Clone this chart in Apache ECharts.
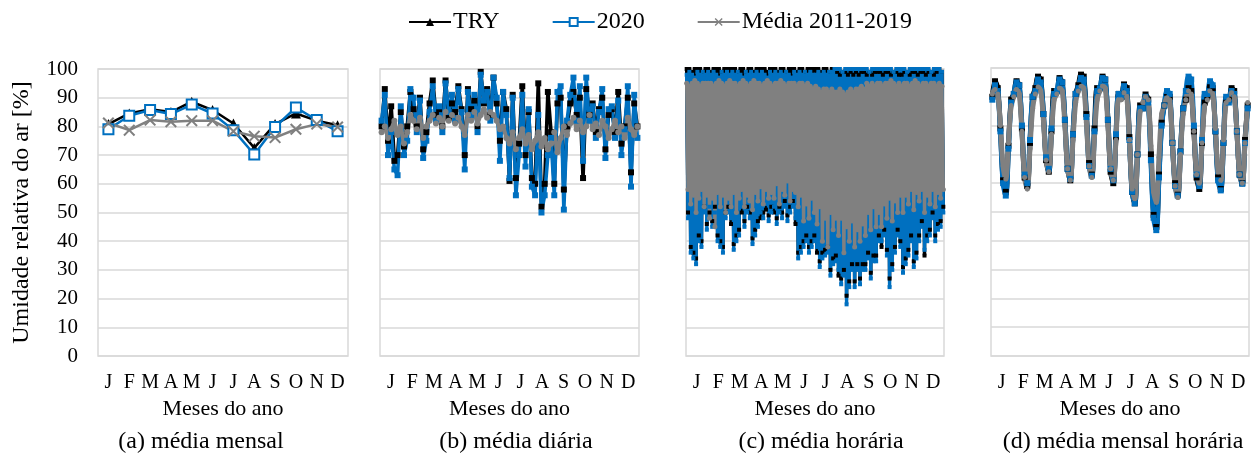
<!DOCTYPE html>
<html><head><meta charset="utf-8">
<script src="https://cdn.jsdelivr.net/npm/echarts@6/dist/echarts.min.js"></script>
<style>html,body{margin:0;padding:0;background:#fff}#c{width:1251px;height:454px}</style>
</head><body><div id="c"></div>
<script>
// ---- labels ----
const months = ['J','F','M','A','M','J','J','A','S','O','N','D'];
const seriesNames = ['TRY','2020','Média 2011-2019'];
const captions = ['(a) média mensal','(b) média diária','(c) média horária','(d) média mensal horária'];
const yTicks = [0,10,20,30,40,50,60,70,80,90,100];

// ---- (a) monthly means ----
const aTRY   = [80.8, 84.5, 86, 85, 88.6, 85.7, 81, 72.5, 80.8, 84.5, 82, 80.4];
const a2020  = [79, 83.7, 85.7, 84.3, 87.6, 84.5, 78.7, 70.2, 79.8, 86.6, 82.2, 78.3];
const aMedia = [81.2, 78.7, 82.2, 81.6, 82, 82, 78.3, 76.6, 76.1, 79, 80.8, 79.8];

// ---- (b) daily means (sampled along the year) ----
const bTRY = [80,93,75,87,68,70,85,73,80,92, 86,80,90,72,78,88,96,84,86,80,
  96,83,88,85,94,86,70,93,86,89, 80,99,88,93,84,97,88,75,92,86,
  61,91,62,74,94,70,85,62,60,95, 52,60,92,78,60,88,90,58,80,88,
  92,84,90,62,93,84,88,78,86,90, 72,84,86,78,92,74,80,90,64,88, 80];
const b2020 = [82,91,70,78,65,63,87,70,75,93, 90,78,89,69,75,85,94,82,87,78,
  95,85,91,82,93,85,65,92,84,91, 78,98,89,92,82,97,90,68,92,84,
  62,90,56,70,91,66,86,59,56,84, 50,56,70,76,56,92,94,51,82,91,
  97,82,94,68,97,82,87,76,85,93, 69,86,87,76,89,70,79,94,59,91, 76];
const bMedia = [78,80,76,79,82,77,80,74,78,84, 82,79,83,76,80,82,84,81,83,80,
  85,82,84,81,83,80,77,84,82,85, 81,84,86,83,85,84,82,79,80,76,
  74,78,72,76,79,74,77,72,75,78, 73,76,72,74,78,71,76,80,77,81,
  83,79,82,78,80,84,79,81,77,82, 80,76,79,82,78,80,76,83,79,77, 80];

// ---- (c) hourly values: daily highs and lows, 8 per month ----
const cTRYMax = [
  100,100,99,100,100,100,99,100, 100,99,100,100,100,99,100,100, 100,100,100,99,100,100,99,100,
  100,99,100,100,100,100,99,100, 100,100,99,100,100,99,100,100, 100,99,100,100,99,100,100,100,
  100,100,99,100,100,99,100,100, 99,98,99,99,98,99,98,99, 98,99,99,98,99,98,99,99,
  99,98,99,99,98,99,99,98, 98,99,99,98,99,99,98,99, 99,98,99,99,98,99,100,99];
const cTRYMin = [
  50,38,36,34,42,40,52,46, 50,47,52,42,40,38,50,52, 46,39,42,44,50,47,52,50,
  41,44,47,48,50,51,49,52, 50,48,52,50,54,49,52,54, 46,36,38,40,42,38,40,42,
  36,33,36,37,38,30,34,35, 28,27,30,21,26,32,26,32, 27,32,32,36,29,35,35,42,
  38,44,37,27,32,38,44,40, 31,34,37,42,33,36,42,47, 35,42,44,50,42,46,47,52];
const c2020Max = [
  98,99,98,97,99,98,99,98, 99,98,99,98,97,99,98,99, 98,99,98,99,98,97,99,98,
  99,98,99,98,99,98,97,99, 98,99,98,99,98,99,98,97, 99,98,99,98,99,98,99,98,
  98,99,98,99,98,99,99,100, 100,100,99,100,100,100,100,100, 100,100,100,100,99,100,100,100,
  100,100,100,100,100,99,100,100, 100,100,99,100,100,100,100,100, 100,100,100,99,100,100,100,99];
const c2020Min = [
  48,36,34,32,40,38,50,44, 52,45,50,40,38,36,48,50, 48,37,40,42,52,45,50,48,
  39,42,45,50,48,53,47,50, 52,46,50,48,52,47,50,52, 48,34,36,38,40,36,38,40,
  38,31,34,35,36,28,32,33, 30,25,28,18,24,30,24,30, 25,30,30,34,27,33,33,40,
  40,42,35,24,30,36,42,38, 29,32,35,40,31,34,40,45, 37,40,42,48,40,44,45,50];
const cMediaMax = [
  95,94,95,96,95,94,95,95, 95,95,94,95,96,95,94,95, 96,95,95,94,95,96,95,94,
  95,96,95,95,94,95,96,95, 94,95,95,96,95,94,95,95, 95,94,95,95,94,95,94,93,
  94,93,92,93,93,92,93,92, 92,93,92,91,92,93,92,93, 93,94,93,95,94,95,94,95,
  95,94,95,95,96,95,94,95, 94,95,95,94,95,96,95,94, 95,95,94,95,95,94,95,94];
const cMediaMin = [
  58,53,56,50,55,58,52,56, 48,55,45,57,52,56,50,55, 52,57,50,55,58,52,56,54,
  51,57,54,59,53,58,55,57, 55,60,53,58,56,61,54,58, 57,52,56,47,53,48,55,50,
  46,52,40,48,38,50,44,48, 42,48,36,45,40,47,38,44, 40,46,42,50,44,52,45,50,
  45,53,48,55,47,54,50,56, 50,56,53,58,51,57,54,58, 50,56,53,58,52,57,55,58];

// ---- (d) monthly mean daily profile, every 3 h (0,3,...,21 h) ----
const dTRY = [
  90,95.4,93,79,61,57,73,89,  91,95.4,94,79,62,59,74,90,  93,97,96,84,68,64,78,92,
  92,96.5,95,82,65,61,77,91,  94,97.7,97,84,67,63,79,93,  93,97,96,82,64,60,76,91,
  90,94.3,93,76,57,53,70,87,  86,90.8,89,70,49,44.8,63,81, 87,91.4,90,74,60,56,71,86,
  89,93,92,78,62,58,74,88,    90,94,93,78,62,58,74,89,    89,93,92,78,63,60,75,87];
const d2020 = [
  89,94,92,78,60,55.7,72,88,  91,95,94,80,63,60,75,90,    92,96,95,84,69,65,79,91,
  92,96,95,82,65,61.5,77,91,  93,96.5,96,83,66,62.6,78,92, 93,96.5,96,82,65,61,77,91,
  90,93.7,92,75,57,53,70,86,  86,90,88,68,48,43.7,62,80,  87,92,91,74,59,55.7,71,86,
  92,97,96,80,63,59,75,91,    91,95.4,94,78,61,57.5,74,90, 88,92,91,78,63,59.8,74,86];
const dMedia = [
  91,92.5,91,80,66,61.5,74,87, 90,92.5,91,78,62,58,72,86,  91,93.4,92,82,68,64,77,89,
  91,93,92,80,65,61,75,88,     92,93.7,93,81,66,62,76,89,  92,93.7,93,80,65,61,75,89,
  89,91.4,90,75,58,54.6,70,85, 88,90,89,73,57,53.4,69,84,  87,89.7,89,74,59,55,70,84,
  89,92,91,78,63,60,74,87,     89,92,91,79,64,61,75,88,    89,91.4,90,78,63,60,74,88];

// ---- build ----
const FONT = 'Liberation Serif';
const COLORS = ['#000000', '#0070C0', '#808080'];
const XPATH = 'path://M0,1.2L1.2,0L5,3.8L8.8,0L10,1.2L6.2,5L10,8.8L8.8,10L5,6.2L1.2,10L0,8.8L3.8,5Z';

function idx(arr){ return arr.map((v,i)=>[i,v]); }
function zig(maxA, minA){ const out=[]; for(let i=0;i<maxA.length;i++){ out.push([2*i, maxA[i]]); out.push([2*i+1, minA[i]]); } return out; }

const grids = [
  {left:98, top:69, width:250, height:287},
  {left:380, top:69, width:259, height:287},
  {left:686, top:69, width:258, height:287},
  {left:991, top:68, width:258, height:288}
];
grids.forEach(g=>{ g.show=true; g.borderColor='#d9d9d9'; g.borderWidth=1.5; g.backgroundColor='transparent'; });

const xAxis = [], yAxis = [];
for (let i=0;i<4;i++){
  xAxis.push({type:'category', gridIndex:i, data:months, boundaryGap:true,
    axisLine:{show:false}, axisTick:{show:false}, splitLine:{show:false},
    axisLabel:{interval:0, color:'#000', fontFamily:FONT, fontSize:20, margin:17},
    name:'Meses do ano', nameLocation:'middle', nameGap:34,
    nameTextStyle:{color:'#000', fontFamily:FONT, fontSize:22}});
  yAxis.push({type:'value', gridIndex:i, min:0, max:100, interval:10,
    axisLine:{show:false}, axisTick:{show:false},
    splitLine:{show:true, lineStyle:{color:'#d9d9d9', width:1.5}},
    axisLabel:{show:i===0, color:'#000', fontFamily:FONT, fontSize:21, margin:20},
    name: i===0 ? 'Umidade relativa do ar [%]' : '', nameLocation:'middle', nameGap:64,
    nameTextStyle:{color:'#000', fontFamily:FONT, fontSize:24}});
}
// hidden value axes for the dense panels (indices 4,5,6)
xAxis.push({type:'value', gridIndex:1, min:-0.5, max:bTRY.length-0.5, show:false});
xAxis.push({type:'value', gridIndex:2, min:-0.5, max:cTRYMax.length*2-0.5, show:false});
xAxis.push({type:'value', gridIndex:3, min:-0.5, max:dTRY.length-0.5, show:false});

const series = [];
// (a)
series.push({name:seriesNames[0], type:'line', xAxisIndex:0, yAxisIndex:0, data:aTRY,
  symbol:'triangle', symbolSize:10, lineStyle:{color:COLORS[0], width:2.5}, itemStyle:{color:COLORS[0]}});
series.push({name:seriesNames[1], type:'line', xAxisIndex:0, yAxisIndex:0, data:a2020,
  symbol:'emptyRect', symbolSize:10, lineStyle:{color:COLORS[1], width:2.5}, itemStyle:{color:COLORS[1], borderWidth:2.2}});
series.push({name:seriesNames[2], type:'line', xAxisIndex:0, yAxisIndex:0, data:aMedia,
  symbol:XPATH, symbolSize:12, lineStyle:{color:COLORS[2], width:2.5}, itemStyle:{color:COLORS[2]}});
// (b)
[[bTRY,'rect'],[b2020,'rect'],[bMedia,'circle']].forEach((s,k)=>{
  series.push({name:seriesNames[k], type:'line', xAxisIndex:4, yAxisIndex:1, data:idx(s[0]),
    symbol:s[1], symbolSize:k===2?6:6, showAllSymbol:true, silent:true,
    lineStyle:{color:COLORS[k], width:k===2?4:3.6}, itemStyle:{color:COLORS[k]}});
});
// (c)
[[cTRYMax,cTRYMin],[c2020Max,c2020Min],[cMediaMax,cMediaMin]].forEach((s,k)=>{
  series.push({name:seriesNames[k], type:'line', xAxisIndex:5, yAxisIndex:2, data:zig(s[0],s[1]),
    symbol:k===2?'circle':'rect', symbolSize:k===2?5:4, showAllSymbol:true, silent:true,
    lineStyle:{color:COLORS[k], width:3.4}, itemStyle:{color:COLORS[k]}});
});
// (d)
[[dTRY,'rect'],[d2020,'rect'],[dMedia,'circle']].forEach((s,k)=>{
  series.push({name:seriesNames[k], type:'line', xAxisIndex:6, yAxisIndex:3, data:idx(s[0]),
    smooth:0.35, symbol:s[1], symbolSize:k===2?5:6, showAllSymbol:true, silent:true,
    lineStyle:{color:COLORS[k], width:5}, itemStyle:{color:COLORS[k]}});
});

const captionX = [201, 516, 821, 1123];
const graphic = captions.map((t,i)=>({type:'text', x:captionX[i], y:442,
  style:{text:t, fill:'#000', font:'24px "Liberation Serif"', textAlign:'center', textVerticalAlign:'middle'}}));

const chart = echarts.init(document.getElementById('c'), null, {renderer:'canvas'});
chart.setOption({
  animation:false,
  backgroundColor:'#fff',
  legend:{data:seriesNames, left:403, top:5, itemWidth:42, itemHeight:10, itemGap:52,
    textStyle:{color:'#000', fontFamily:FONT, fontSize:24, padding:[0,0,0,-3]}},
  grid:grids, xAxis:xAxis, yAxis:yAxis, series:series, graphic:graphic
});
</script></body></html>
